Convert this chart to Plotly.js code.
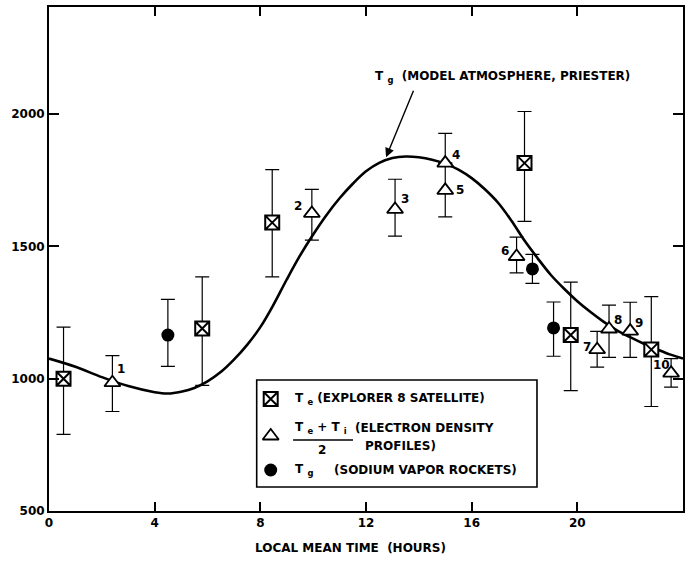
<!DOCTYPE html>
<html>
<head>
<meta charset="utf-8">
<script src="https://cdn.plot.ly/plotly-3.0.1.min.js"></script>
<style>
  html, body { margin: 0; padding: 0; background: #fff; }
  #chart { width: 689px; height: 561px; }
</style>
</head>
<body>
<div id="chart"></div>
<script>
// Explorer 8 satellite electron temperature (boxed crosses)
const explorerHour = [0.55, 5.8, 8.45, 18.0, 19.75, 22.8];
const explorerTemp = [1000, 1190, 1590, 1815, 1165, 1110];
const explorerHigh = [1195, 1385, 1790, 2010, 1365, 1310];
const explorerLow  = [790, 975, 1385, 1595, 955, 895];

// (Te + Ti)/2 from electron density profiles (open triangles, numbered 1-10)
const densityHour = [2.4, 9.95, 13.1, 15.0, 15.0, 17.7, 20.75, 21.2, 22.0, 23.55];
const densityTemp = [985, 1625, 1640, 1815, 1712, 1462, 1110, 1188, 1180, 1021];
const densityHigh = [1087, 1716, 1754, 1927, 1815, 1535, 1179, 1278, 1289, 1076];
const densityLow  = [876, 1524, 1539, 1815, 1612, 1400, 1044, 1081, 1081, 968];
const densityLabels = ['1', '2', '3', '4', '5', '6', '7', '8', '9', '10'];

// Sodium vapor rocket gas temperature (filled circles)
const sodiumHour = [4.5, 18.3, 19.1];
const sodiumTemp = [1165, 1415, 1192];
const sodiumHigh = [1300, 1470, 1290];
const sodiumLow  = [1047, 1360, 1085];

// Model atmosphere gas temperature (Priester)
const modelHour = [0, 1, 2, 3, 4, 4.5, 5, 5.5, 6, 6.5, 7, 7.5, 8, 8.5, 9, 9.5, 10, 10.5, 11, 11.5,
                   12, 12.5, 13, 13.5, 14, 14.5, 15, 15.5, 16, 16.5, 17, 17.5, 18, 18.5, 19,
                   19.5, 20, 20.5, 21, 21.5, 22, 22.5, 23, 23.5, 24];
const modelTemp = [1076, 1045, 1006, 972, 949, 944, 951, 965, 990, 1025, 1072, 1128, 1195, 1280,
                   1375, 1465, 1545, 1618, 1682, 1737, 1784, 1816, 1834, 1840, 1837, 1828, 1813,
                   1790, 1758, 1716, 1665, 1598, 1522, 1455, 1392, 1340, 1293, 1252, 1215, 1183,
                   1157, 1133, 1112, 1092, 1076];

// Tick values
const xTicks = [0, 4, 8, 12, 16, 20, 24];
const yTicks = [500, 1000, 1500, 2000];

// Legend key symbols, placed on an overlay axis spanning 0..1
const keyX = 0.3497;
const keyY = [0.2222, 0.1488, 0.0813];

const FONT = 'DejaVu Sans, sans-serif';
const INK = '#000000';

const plus = (hi, v) => hi.map((h, i) => h - v[i]);
const minus = (lo, v) => lo.map((l, i) => v[i] - l);

function errBars(hi, lo, v) {
  return {
    type: 'data', symmetric: false,
    array: plus(hi, v), arrayminus: minus(lo, v),
    color: INK, thickness: 1.2, width: 7
  };
}

const boxMarker = { symbol: 'square-x', size: 14, color: '#ffffff', line: { color: INK, width: 2 } };
const triMarker = { symbol: 'triangle-up', size: 14, color: '#ffffff', line: { color: INK, width: 1.8 } };
const dotMarker = { symbol: 'circle', size: 13, color: INK, line: { color: INK, width: 0 } };

const traces = [
  {
    x: modelHour, y: modelTemp, type: 'scatter', mode: 'lines',
    line: { color: INK, width: 2.6, shape: 'spline', smoothing: 1 },
    hoverinfo: 'skip', showlegend: false
  },
  {
    x: explorerHour, y: explorerTemp, type: 'scatter', mode: 'markers',
    error_y: errBars(explorerHigh, explorerLow, explorerTemp),
    marker: boxMarker, showlegend: false
  },
  {
    x: densityHour, y: densityTemp, type: 'scatter', mode: 'markers',
    error_y: errBars(densityHigh, densityLow, densityTemp),
    marker: triMarker, showlegend: false
  },
  {
    x: sodiumHour, y: sodiumTemp, type: 'scatter', mode: 'markers',
    error_y: errBars(sodiumHigh, sodiumLow, sodiumTemp),
    marker: dotMarker, showlegend: false
  }
];

// legend keys
[boxMarker, triMarker, dotMarker].forEach((m, i) => {
  traces.push({
    x: [keyX], y: [keyY[i]], xaxis: 'x2', yaxis: 'y2', type: 'scatter', mode: 'markers',
    marker: m, hoverinfo: 'skip', showlegend: false
  });
});

// Point numbers beside the triangles (pixel offsets from each point)
const labelShift = [[9, 14], [-14, 7], [10, 10], [11, 8], [15, 0], [-12, 5], [-10, 3], [9, 9], [9, 8], [-10, 8]];
const annotations = densityLabels.map((t, i) => ({
  x: densityHour[i], y: densityTemp[i], xref: 'x', yref: 'y', text: t, showarrow: false,
  xshift: labelShift[i][0], yshift: labelShift[i][1],
  font: { family: FONT, size: 12, color: INK, weight: 'bold' }
}));

const txt = (x, y, text, anchor, size) => ({
  x, y, xref: 'paper', yref: 'paper', text, showarrow: false,
  xanchor: anchor || 'left', yanchor: 'middle',
  font: { family: FONT, size: size || 12, color: INK, weight: 'bold' }
});

annotations.push(
  txt(0.511, 0.861, 'T <sub>g</sub>  (MODEL ATMOSPHERE, PRIESTER)', 'left', 12),
  {
    x: 12.76, y: 1837, xref: 'x', yref: 'y', text: '', showarrow: true,
    ax: 28, ay: -68, arrowhead: 2, arrowsize: 1.3, arrowwidth: 1.4, arrowcolor: INK, standoff: 0
  },
  txt(0.385, 0.2222, 'T <sub>e</sub> (EXPLORER 8 SATELLITE)'),
  txt(0.385, 0.1647, 'T <sub>e</sub> + T <sub>i</sub>'),
  txt(0.4795, 0.1647, '(ELECTRON DENSITY'),
  txt(0.4953, 0.129, 'PROFILES)'),
  txt(0.4305, 0.122, '2', 'center'),
  txt(0.385, 0.0813, 'T <sub>g</sub>'),
  txt(0.4459, 0.0813, '(SODIUM VAPOR ROCKETS)'),
  {
    x: 0.4748, y: -0.073, xref: 'paper', yref: 'paper', text: 'LOCAL MEAN TIME  (HOURS)',
    showarrow: false, xanchor: 'center', yanchor: 'middle',
    font: { family: FONT, size: 12, color: INK, weight: 'bold' }
  }
);

const shapes = [
  // legend frame
  { type: 'rect', xref: 'paper', yref: 'paper', x0: 0.3276, x1: 0.7697, y0: 0.0476, y1: 0.26,
    line: { color: INK, width: 1.6 }, fillcolor: 'rgba(0,0,0,0)', layer: 'above' },
  // fraction bar
  { type: 'line', xref: 'paper', yref: 'paper', x0: 0.385, x1: 0.4795, y0: 0.1409, y1: 0.1409,
    line: { color: INK, width: 1.5 } }
];

const axisBase = {
  showline: true, linecolor: INK, linewidth: 2, mirror: 'ticks',
  ticks: 'inside', tickcolor: INK, tickwidth: 2, ticklen: 9,
  showgrid: false, zeroline: false, fixedrange: true,
  tickfont: { family: FONT, size: 12, color: INK, weight: 'bold' }
};

const layout = {
  width: 689, height: 561,
  margin: { l: 49, r: 6, t: 7, b: 50 },
  paper_bgcolor: '#ffffff', plot_bgcolor: '#ffffff',
  xaxis: Object.assign({}, axisBase, { range: [0, 24], tickvals: xTicks, ticktext: xTicks.map(String) }),
  yaxis: Object.assign({}, axisBase, { range: [500, 2405], tickvals: yTicks, ticktext: yTicks.map(String), ticklen: 10 }),
  xaxis2: { overlaying: 'x', range: [0, 1], visible: false, fixedrange: true },
  yaxis2: { overlaying: 'y', range: [0, 1], visible: false, fixedrange: true },
  annotations, shapes,
  showlegend: false
};

Plotly.newPlot('chart', traces, layout, { displayModeBar: false, staticPlot: true });
</script>
</body>
</html>
